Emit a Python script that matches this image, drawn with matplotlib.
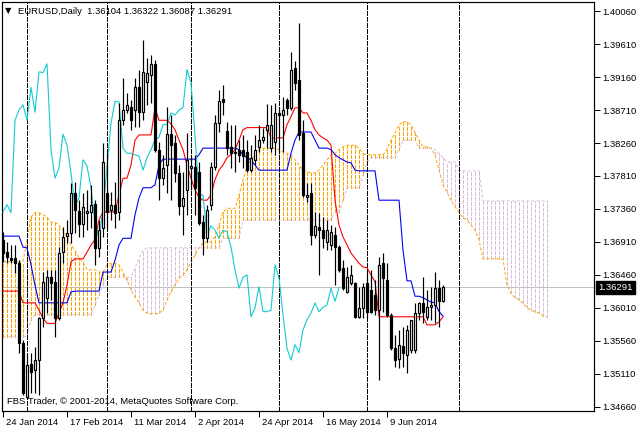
import numpy as np
import matplotlib.pyplot as plt
from matplotlib.patches import Rectangle
import matplotlib.transforms as mtransforms

plt.rcParams['lines.scale_dashes'] = False
plt.rcParams['font.family'] = ['Liberation Sans', 'DejaVu Sans']

# EURUSD daily candles, bar 0 = 24 Jan 2014, last bar = 20 Jun 2014
opens = [1.3694, 1.3677, 1.3669, 1.3669, 1.3662, 1.3553, 1.3480, 1.3525, 1.3516, 1.3530,
         1.3587, 1.3615, 1.3643, 1.3637, 1.3587, 1.3677, 1.3699, 1.3703, 1.3758, 1.3733,
         1.3716, 1.3731, 1.3732, 1.3743, 1.3683, 1.3710, 1.3758, 1.3735, 1.3742, 1.3732,
         1.3857, 1.3871, 1.3875, 1.3871, 1.3902, 1.3868, 1.3909, 1.3919, 1.3934, 1.3817,
         1.3778, 1.3796, 1.3838, 1.3826, 1.3785, 1.3740, 1.3762, 1.3792, 1.3793, 1.3787,
         1.3718, 1.3696, 1.3742, 1.3793, 1.3853, 1.3886, 1.3842, 1.3821, 1.3814, 1.3817,
         1.3817, 1.3814, 1.3789, 1.3803, 1.3821, 1.3830, 1.3844, 1.3819, 1.3827, 1.3867,
         1.3864, 1.3885, 1.3874, 1.3928, 1.3912, 1.3840, 1.3752, 1.3758, 1.3701, 1.3712,
         1.3707, 1.3691, 1.3687, 1.3701, 1.3684, 1.3656, 1.3623, 1.3635, 1.3635, 1.3589,
         1.3601, 1.3635, 1.3626, 1.3619, 1.3598, 1.3662, 1.3639, 1.3592, 1.3546, 1.3531,
         1.3549, 1.3537, 1.3544, 1.3544, 1.3594, 1.3608, 1.3589, 1.3602, 1.3605, 1.3628,
         1.36104]
highs = [1.3705, 1.3691, 1.3687, 1.3687, 1.3666, 1.3557, 1.3540, 1.3540, 1.3548, 1.3589,
         1.3650, 1.3653, 1.3653, 1.3653, 1.3684, 1.3712, 1.3721, 1.3771, 1.3773, 1.3748,
         1.3758, 1.3762, 1.3769, 1.3748, 1.3721, 1.3826, 1.3812, 1.3759, 1.3773, 1.3881,
         1.3915, 1.3894, 1.3885, 1.3915, 1.3926, 1.3967, 1.3942, 1.3946, 1.3939, 1.3827,
         1.3810, 1.3875, 1.3864, 1.3837, 1.3796, 1.3786, 1.3840, 1.3810, 1.3810, 1.3800,
         1.3728, 1.3742, 1.3800, 1.3864, 1.3898, 1.3905, 1.3855, 1.3851, 1.3851, 1.3830,
         1.3837, 1.3830, 1.3823, 1.3837, 1.3851, 1.3847, 1.3879, 1.3878, 1.3881, 1.3875,
         1.3889, 1.3887, 1.3950, 1.3938, 1.3990, 1.3857, 1.3771, 1.3771, 1.3732, 1.3731,
         1.3725, 1.3721, 1.3714, 1.3712, 1.3687, 1.3666, 1.3657, 1.3660, 1.3637, 1.3630,
         1.3635, 1.3649, 1.3653, 1.3639, 1.3671, 1.3676, 1.3662, 1.3594, 1.3564, 1.3571,
         1.3575, 1.3578, 1.3585, 1.3608, 1.3609, 1.3643, 1.3626, 1.3630, 1.3650, 1.3639,
         1.36322]
lows = [1.3664, 1.3662, 1.3662, 1.3649, 1.3540, 1.3482, 1.3479, 1.3485, 1.3485, 1.3482,
        1.3575, 1.3594, 1.3612, 1.3562, 1.3585, 1.3662, 1.3690, 1.3690, 1.3703, 1.3698,
        1.3698, 1.3707, 1.3710, 1.3660, 1.3671, 1.3698, 1.3710, 1.3721, 1.3710, 1.3721,
        1.3851, 1.3867, 1.3844, 1.3848, 1.3848, 1.3857, 1.3878, 1.3881, 1.3814, 1.3748,
        1.3769, 1.3758, 1.3748, 1.3773, 1.3728, 1.3701, 1.3728, 1.3762, 1.3728, 1.3714,
        1.3673, 1.3691, 1.3735, 1.3789, 1.3841, 1.3864, 1.3810, 1.3792, 1.3787, 1.3800,
        1.3792, 1.3787, 1.3787, 1.3796, 1.3814, 1.3826, 1.3819, 1.3814, 1.3810, 1.3814,
        1.3814, 1.3864, 1.3871, 1.3898, 1.3830, 1.3752, 1.3746, 1.3687, 1.3696, 1.3646,
        1.3683, 1.3680, 1.3680, 1.3632, 1.3650, 1.3626, 1.3622, 1.3632, 1.3587, 1.3587,
        1.3587, 1.3587, 1.3594, 1.3592, 1.3503, 1.3596, 1.3589, 1.3544, 1.3521, 1.3519,
        1.3521, 1.3512, 1.3540, 1.3540, 1.3585, 1.3580, 1.3585, 1.3585, 1.3580, 1.3575,
        1.36087]
closes = [1.3676, 1.3671, 1.3666, 1.3662, 1.3553, 1.3485, 1.3523, 1.3514, 1.3530, 1.3587,
          1.3637, 1.3643, 1.3635, 1.3587, 1.3676, 1.3698, 1.3703, 1.3758, 1.3735, 1.3716,
          1.3739, 1.3733, 1.3742, 1.3683, 1.3707, 1.3800, 1.3732, 1.3742, 1.3731, 1.3857,
          1.3871, 1.3878, 1.3857, 1.3902, 1.3868, 1.3923, 1.3922, 1.3934, 1.3817, 1.3778,
          1.3792, 1.3838, 1.3823, 1.3785, 1.3740, 1.3751, 1.3803, 1.3795, 1.3765, 1.3717,
          1.3696, 1.3735, 1.3793, 1.3853, 1.3883, 1.3882, 1.3819, 1.3812, 1.3812, 1.3810,
          1.3808, 1.3789, 1.3806, 1.3817, 1.3830, 1.3834, 1.3851, 1.3851, 1.3867, 1.3864,
          1.3871, 1.3874, 1.3926, 1.3908, 1.3837, 1.3755, 1.3755, 1.3701, 1.3713, 1.3707,
          1.3696, 1.3707, 1.3705, 1.3684, 1.3653, 1.3628, 1.3643, 1.3646, 1.3589, 1.3601,
          1.3630, 1.3596, 1.3596, 1.3598, 1.3660, 1.3642, 1.3592, 1.3546, 1.3530, 1.3551,
          1.3540, 1.3571, 1.3585, 1.3594, 1.3608, 1.3596, 1.3602, 1.3605, 1.3628, 1.3610,
          1.36291]

tenkan = [1.3624, 1.3624, 1.3624, 1.3624, 1.3624, 1.3608, 1.3608, 1.3608, 1.3608, 1.3598,
          1.3587, 1.3580, 1.3580, 1.3580, 1.3594, 1.3608, 1.3632, 1.3664, 1.3668, 1.3668,
          1.3668, 1.3677, 1.3687, 1.3694, 1.3721, 1.3732, 1.3732, 1.3732, 1.3732, 1.3755,
          1.3778, 1.3778, 1.3796, 1.3830, 1.3837, 1.3837, 1.3837, 1.3837, 1.3874, 1.3857,
          1.3857, 1.3857, 1.3852, 1.3844, 1.3830, 1.3817, 1.3796, 1.3778, 1.3762, 1.3752,
          1.3748, 1.3748, 1.3755, 1.3776, 1.3789, 1.3796, 1.3806, 1.3810, 1.3817, 1.3830,
          1.3844, 1.3847, 1.3847, 1.3847, 1.3847, 1.3847, 1.3847, 1.3833, 1.3833, 1.3833,
          1.3833, 1.3851, 1.3862, 1.3874, 1.3874, 1.3867, 1.3867, 1.3857, 1.3844, 1.3837,
          1.3833, 1.3830, 1.3823, 1.3748, 1.3714, 1.3698, 1.3687, 1.3676, 1.3669, 1.3662,
          1.3657, 1.3656, 1.3646, 1.3637, 1.3589, 1.3589, 1.3589, 1.3589, 1.3589, 1.3589,
          1.3589, 1.3589, 1.3589, 1.3589, 1.3589, 1.3589, 1.3578, 1.3578, 1.3578, 1.3582,
          1.3589]
kijun = [1.3699, 1.3699, 1.3699, 1.3699, 1.3699, 1.3684, 1.3683, 1.3660, 1.3632, 1.3608,
         1.3608, 1.3608, 1.3608, 1.3608, 1.3608, 1.3608, 1.3608, 1.3623, 1.3624, 1.3624,
         1.3624, 1.3624, 1.3624, 1.3624, 1.3624, 1.3650, 1.3650, 1.3650, 1.3666, 1.3687,
         1.3696, 1.3696, 1.3696, 1.3728, 1.3751, 1.3765, 1.3765, 1.3765, 1.3769, 1.3796,
         1.3804, 1.3804, 1.3804, 1.3804, 1.3804, 1.3804, 1.3804, 1.3804, 1.3804, 1.3810,
         1.3819, 1.3819, 1.3819, 1.3819, 1.3819, 1.3819, 1.3819, 1.3819, 1.3819, 1.3817,
         1.3810, 1.3806, 1.3803, 1.3796, 1.3789, 1.3789, 1.3789, 1.3789, 1.3789, 1.3789,
         1.3789, 1.3789, 1.3812, 1.3830, 1.3841, 1.3841, 1.3841, 1.3841, 1.3830, 1.3819,
         1.3819, 1.3819, 1.3817, 1.3810, 1.3806, 1.3803, 1.3800, 1.3799, 1.3789, 1.3788,
         1.3788, 1.3788, 1.3788, 1.3788, 1.3748, 1.3748, 1.3748, 1.3748, 1.3748, 1.3748,
         1.3680, 1.3638, 1.3638, 1.3617, 1.3617, 1.3615, 1.3612, 1.3609, 1.3608, 1.3596,
         1.3590]
# senkou spans as drawn (already shifted 26 bars forward)
senkou_a = [1.3664, 1.3664, 1.3664, 1.3664, 1.3664, 1.3664, 1.3694, 1.3725, 1.3731, 1.3731,
            1.3728, 1.3725, 1.3718, 1.3718, 1.3714, 1.3707, 1.3698, 1.3687, 1.3680, 1.3669,
            1.3664, 1.3653, 1.3653, 1.3653, 1.3650, 1.3650, 1.3660, 1.3662, 1.3662, 1.3660,
            1.3650, 1.3639, 1.3626, 1.3616, 1.3608, 1.3598, 1.3594, 1.3593, 1.3593, 1.3594,
            1.3598, 1.3612, 1.3623, 1.3632, 1.3642, 1.3646, 1.3653, 1.3664, 1.3673, 1.3683,
            1.3690, 1.3691, 1.3691, 1.3699, 1.3714, 1.3732, 1.3737, 1.3737, 1.3737, 1.3755,
            1.3776, 1.3793, 1.3803, 1.3810, 1.3817, 1.3819, 1.3819, 1.3819, 1.3819, 1.3817,
            1.3814, 1.3812, 1.3810, 1.3803, 1.3796, 1.3789, 1.3787, 1.3785, 1.3785, 1.3789,
            1.3796, 1.3803, 1.3810, 1.3812, 1.3817, 1.3821, 1.3823, 1.3823, 1.3823, 1.3819,
            1.3812, 1.3810, 1.3810, 1.3810, 1.3810, 1.3810, 1.3817, 1.3830, 1.3840, 1.3851,
            1.3855, 1.3855, 1.3851, 1.3840, 1.3830, 1.3821, 1.3821, 1.3819, 1.3810, 1.3789,
            1.3769, 1.3759, 1.3748, 1.3739, 1.3731, 1.3724, 1.3721, 1.3714, 1.3707, 1.3694,
            1.3668, 1.3668, 1.3668, 1.3668, 1.3668, 1.3668, 1.3632, 1.3621, 1.3615, 1.3612,
            1.3608, 1.3601, 1.3598, 1.3596, 1.3594, 1.3590, 1.3589]
senkou_b = [1.3562, 1.3562, 1.3562, 1.3562, 1.3562, 1.3562, 1.3562, 1.3585, 1.3592, 1.3592,
            1.3592, 1.3592, 1.3592, 1.3592, 1.3592, 1.3592, 1.3592, 1.3592, 1.3592, 1.3592,
            1.3592, 1.3592, 1.3592, 1.3605, 1.3619, 1.3632, 1.3643, 1.3643, 1.3643, 1.3643,
            1.3643, 1.3643, 1.3643, 1.3656, 1.3669, 1.3680, 1.3683, 1.3683, 1.3683, 1.3683,
            1.3683, 1.3683, 1.3683, 1.3683, 1.3683, 1.3683, 1.3683, 1.3683, 1.3683, 1.3683,
            1.3683, 1.3683, 1.3683, 1.3683, 1.3683, 1.3696, 1.3696, 1.3696, 1.3696, 1.3696,
            1.3721, 1.3721, 1.3721, 1.3721, 1.3721, 1.3721, 1.3721, 1.3721, 1.3721, 1.3721,
            1.3721, 1.3721, 1.3721, 1.3721, 1.3721, 1.3721, 1.3721, 1.3721, 1.3721, 1.3721,
            1.3721, 1.3721, 1.3721, 1.3732, 1.3732, 1.3748, 1.3765, 1.3765, 1.3765, 1.3765,
            1.3782, 1.3800, 1.3806, 1.3806, 1.3806, 1.3806, 1.3806, 1.3806, 1.3806, 1.3817,
            1.3830, 1.3830, 1.3830, 1.3830, 1.3819, 1.3819, 1.3819, 1.3819, 1.3817, 1.3812,
            1.3806, 1.3800, 1.3800, 1.3800, 1.3789, 1.3788, 1.3788, 1.3788, 1.3788, 1.3788,
            1.3747, 1.3747, 1.3747, 1.3747, 1.3747, 1.3747, 1.3747, 1.3747, 1.3747, 1.3747,
            1.3747, 1.3747, 1.3747, 1.3747, 1.3747, 1.3747, 1.3747]
chikou_shift = 26

date_labels = ['24 Jan 2014', '17 Feb 2014', '11 Mar 2014', '2 Apr 2014',
               '24 Apr 2014', '16 May 2014', '9 Jun 2014']
date_bars = [0, 16, 32, 48, 64, 80, 96]
month_starts = [6, 26, 47, 69, 91, 114]
price_ticks = [1.40060, 1.39610, 1.39160, 1.38710, 1.38260, 1.37810, 1.37360,
               1.36910, 1.36460, 1.36010, 1.35560, 1.35110, 1.34660]
last_price = 1.36291
header = 'EURUSD,Daily  1.36104 1.36322 1.36087 1.36291'

W, H = 637, 428
fig = plt.figure(figsize=(W / 100, H / 100), dpi=100)
ax = fig.add_axes([2 / W, 17 / H, 592 / W, 409 / H])
ax.set_xlim(-0.25, 147.75)
ax.set_ylim(1.34605, 1.40183)

px = 0.72  # one pixel in points
orange = '#FFA500'
thistle = '#D8BFD8'
fs = 6.8

# current price line
ax.axhline(last_price, color='#C0C0C0', lw=px, zorder=1, antialiased=False)

# cloud hatching
for i in range(len(senkou_a)):
    a, b = senkou_a[i], senkou_b[i]
    col = orange if a >= b else thistle
    ax.vlines(i, min(a, b), max(a, b), colors=col, lw=px,
              linestyles=(0, (2.2, 1.4)), zorder=2, antialiased=False)
xs = np.arange(len(senkou_a))
ax.plot(xs, senkou_a, color=orange, lw=px, ls=(0, (2.2, 1.4)), zorder=2.5)
ax.plot(xs, senkou_b, color=thistle, lw=px, ls=(0, (2.2, 1.4)), zorder=2.5)

# month separators
for m in month_starts:
    ax.axvline(m, color='black', lw=px, ls=(0, (2.9, 1.4)), zorder=2.6,
               antialiased=False)

# lines
n = len(closes)
ax.plot(np.arange(n), tenkan, color='red', lw=px * 1.1, zorder=3)
ax.plot(np.arange(n), kijun, color='#0000EE', lw=px * 1.1, zorder=3)
ax.plot(np.arange(n - chikou_shift), closes[chikou_shift:], color='#12C9D6',
        lw=px * 1.1, zorder=3)

# candles
for i in range(n):
    o, h, l, c = opens[i], highs[i], lows[i], closes[i]
    ax.vlines(i, l, h, colors='black', lw=px * 1.2, zorder=4)
    bull = c >= o
    body = max(abs(c - o), 0.00004)
    ax.add_patch(Rectangle((i - 0.3, min(o, c)), 0.6, body,
                           facecolor='white' if bull else 'black',
                           edgecolor='black', lw=px * 1.2, zorder=5))

for s in ax.spines.values():
    s.set_linewidth(px * 1.2)

ax.yaxis.tick_right()
ax.set_yticks(price_ticks)
ax.set_yticklabels([f'{p:.5f}' for p in price_ticks])
ax.tick_params(axis='y', direction='out', length=4, width=px, labelsize=fs, pad=2)
ax.set_xticks(date_bars)
ax.set_xticklabels(date_labels)
ax.tick_params(axis='x', direction='out', length=4, width=px, labelsize=fs, pad=1)
for lab in ax.get_xticklabels():
    lab.set_horizontalalignment('left')
    lab.set_transform(lab.get_transform() + mtransforms.ScaledTranslation(3 / 100, 0, fig.dpi_scale_trans))

# price label box
trans = mtransforms.blended_transform_factory(ax.transAxes, ax.transData)
ax.text(1.008, last_price, f'{last_price:.5f}', transform=trans, fontsize=fs,
        color='white', va='center', ha='left',
        bbox=dict(boxstyle='square,pad=0.25', fc='black', ec='black'))

fig.text(5 / W, 1 - 11 / H, '\u25bc', fontsize=6, va='center', ha='left',
         family='DejaVu Sans')
fig.text(18 / W, 1 - 11 / H, header, fontsize=fs, va='center', ha='left')
fig.text(7 / W, 1 - 402 / H, 'FBS Trader, \u00a9 2001-2014, MetaQuotes Software Corp.',
         fontsize=fs, va='center', ha='left')

fig.savefig('out.png', dpi=100)
